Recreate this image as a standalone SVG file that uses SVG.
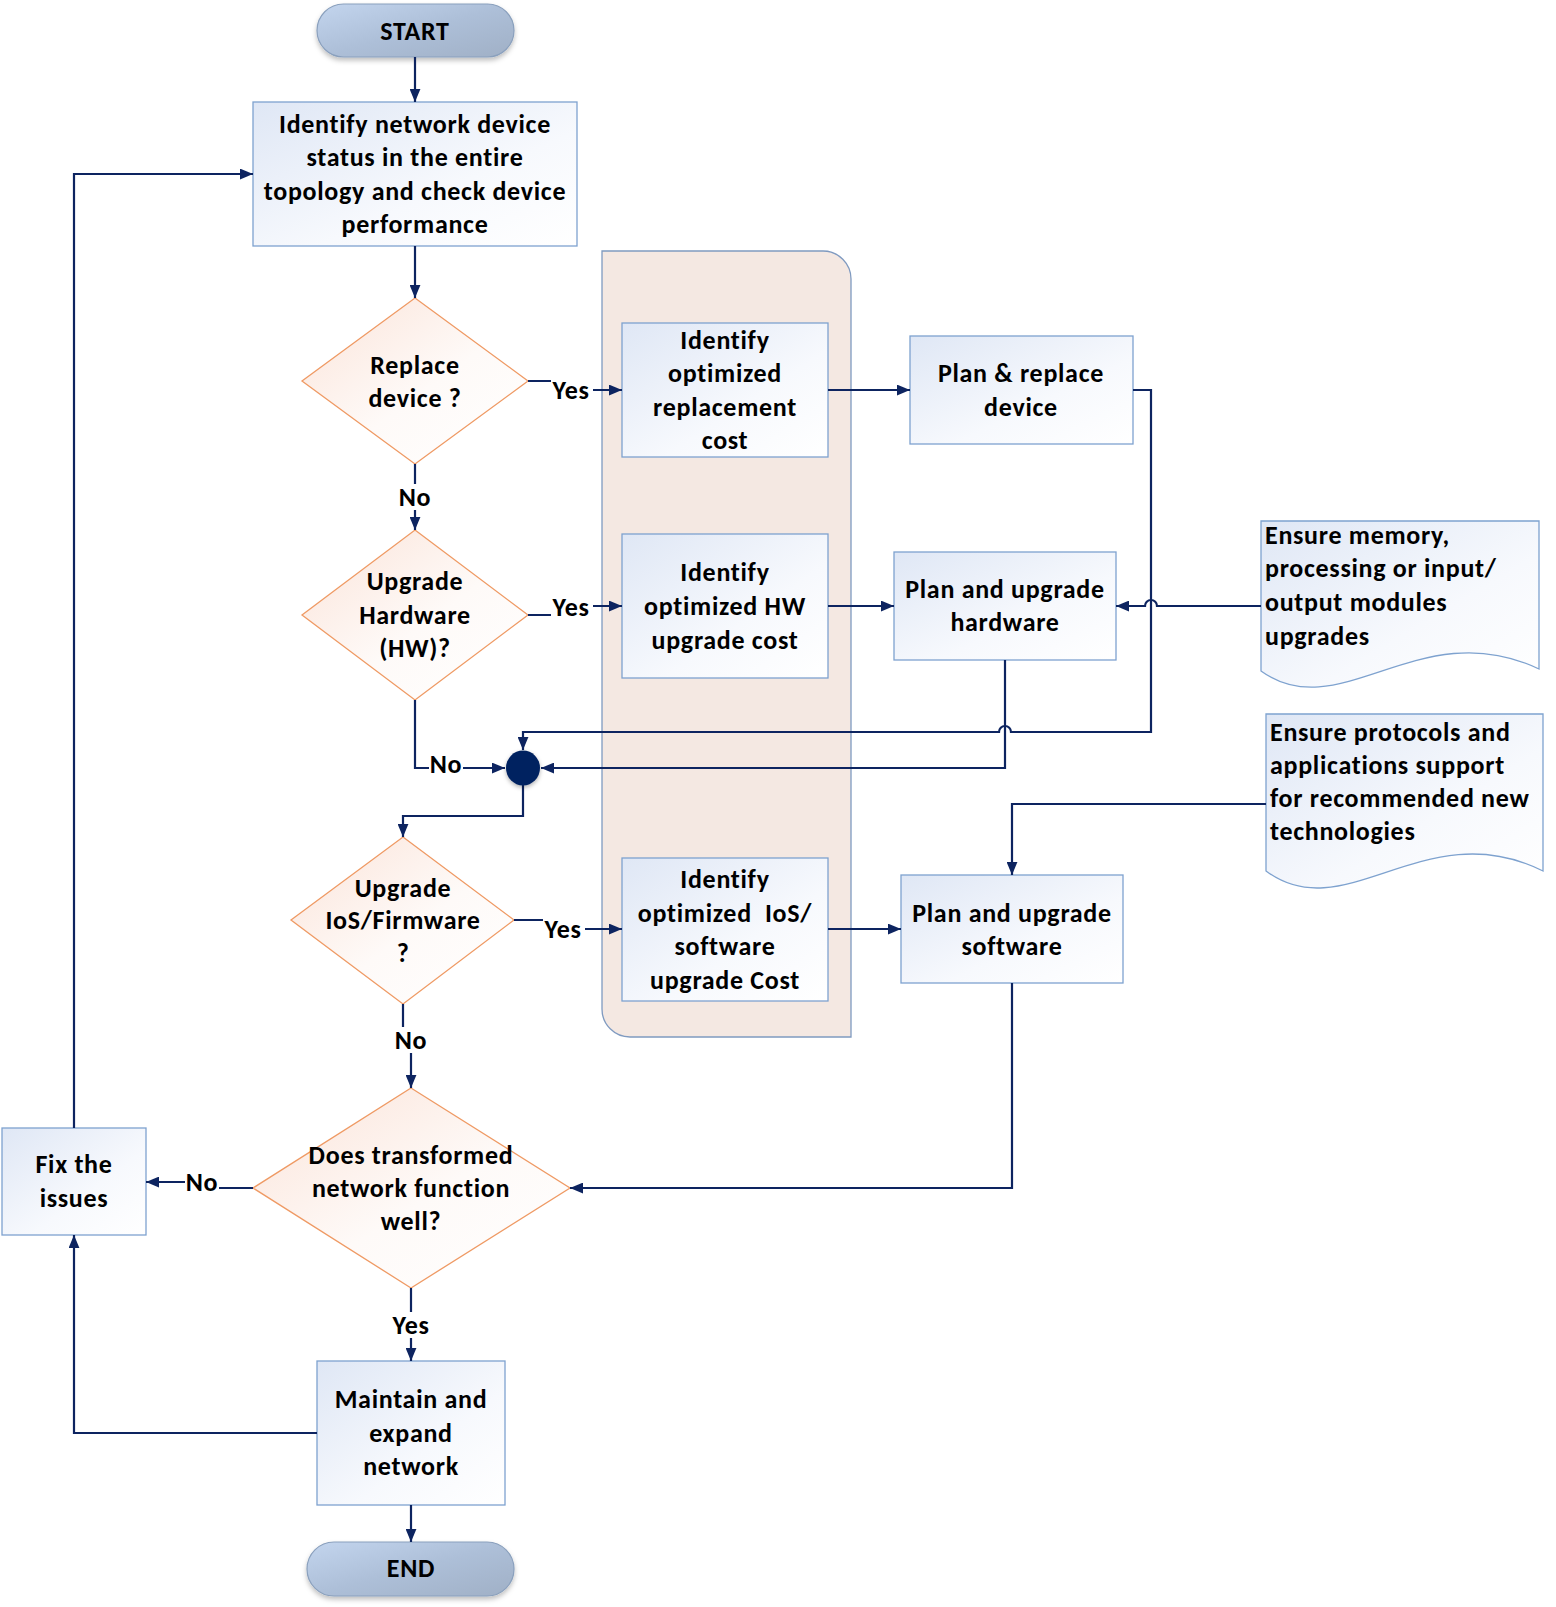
<svg xmlns="http://www.w3.org/2000/svg" width="1556" height="1607" viewBox="0 0 1556 1607">
<defs>
<linearGradient id="gBox" x1="0" y1="0" x2="1" y2="1"><stop offset="0" stop-color="#dfe7f5"/><stop offset="0.6" stop-color="#f7f9fd"/><stop offset="1" stop-color="#ffffff"/></linearGradient>
<linearGradient id="gDia" x1="0" y1="0" x2="1" y2="1"><stop offset="0" stop-color="#fbe3d8"/><stop offset="0.55" stop-color="#fefaf8"/><stop offset="1" stop-color="#ffffff"/></linearGradient>
<linearGradient id="gPill" x1="0" y1="0" x2="1" y2="1"><stop offset="0" stop-color="#c3d5ee"/><stop offset="0.5" stop-color="#adbfd8"/><stop offset="1" stop-color="#a0b0c6"/></linearGradient>
<filter id="sh" x="-10%" y="-20%" width="120%" height="150%"><feDropShadow dx="0" dy="3" stdDeviation="2.5" flood-color="#000" flood-opacity="0.25"/></filter>
<filter id="shc" x="-50%" y="-50%" width="200%" height="200%"><feDropShadow dx="0" dy="2" stdDeviation="2" flood-color="#000" flood-opacity="0.3"/></filter>
<marker id="ar" viewBox="0 0 12 10" refX="12" refY="5" markerWidth="13" markerHeight="11" markerUnits="userSpaceOnUse" orient="auto"><path d="M0,0 L12,5 L0,10 Z" fill="#0d2460"/></marker>
<style>
text{font-family:Carlito,Lato,"Liberation Sans",sans-serif;font-weight:bold;font-size:26px;letter-spacing:0.7px;fill:#000;text-anchor:middle;dominant-baseline:central}
.l{text-anchor:start}
.box{fill:url(#gBox);stroke:#7ea2cf;stroke-width:1.3}
.dia{fill:url(#gDia);stroke:#ef9a64;stroke-width:1.3}
.pill{fill:url(#gPill);stroke:#8aa0bd;stroke-width:1.2;filter:url(#sh)}
.cn{fill:none;stroke:#0d2460;stroke-width:2.2}
.lbg{fill:#fff}
</style>
</defs>
<rect width="1556" height="1607" fill="#fff"/>

<g id="container">
<path d="M602,251 H823 A28,28 0 0 1 851,279 V1037 H630 A28,28 0 0 1 602,1009 Z" fill="#f4e8e2" stroke="#7f9ac0" stroke-width="1.3"/>
</g>

<g id="start"><rect class="pill" x="317" y="4" width="197" height="53" rx="26.5"/><text x="415" y="30.5">START</text></g>

<g id="identify-status"><rect class="box" x="253" y="102" width="324" height="144"/>
<text x="415" y="124">Identify network device</text><text x="415" y="157">status in the entire</text><text x="415" y="191">topology and check device</text><text x="415" y="224">performance</text></g>

<g id="replace-device"><polygon class="dia" points="415,298 528,381 415,464 302,381"/>
<text x="415" y="365">Replace</text><text x="415" y="398">device ?</text></g>

<g id="upgrade-hw"><polygon class="dia" points="415,530 528,615 415,700 302,615"/>
<text x="415" y="581">Upgrade</text><text x="415" y="615">Hardware</text><text x="415" y="648">(HW)?</text></g>

<g id="upgrade-ios"><polygon class="dia" points="403,837 514,920 403,1004 291,920"/>
<text x="403" y="888">Upgrade</text><text x="403" y="920">IoS/Firmware</text><text x="403" y="953">?</text></g>

<g id="works-well"><polygon class="dia" points="411,1088 570,1188 411,1288 253,1188"/>
<text x="411" y="1155">Does transformed</text><text x="411" y="1188">network function</text><text x="411" y="1221">well?</text></g>

<g id="replacement-cost"><rect class="box" x="622" y="323" width="206" height="134"/>
<text x="725" y="340">Identify</text><text x="725" y="373">optimized</text><text x="725" y="407">replacement</text><text x="725" y="440">cost</text></g>

<g id="hw-cost"><rect class="box" x="622" y="534" width="206" height="144"/>
<text x="725" y="572">Identify</text><text x="725" y="606">optimized HW</text><text x="725" y="640">upgrade cost</text></g>

<g id="ios-cost"><rect class="box" x="622" y="858" width="206" height="143"/>
<text x="725" y="879">Identify</text><text x="725" y="913" xml:space="preserve">optimized  IoS/</text><text x="725" y="946">software</text><text x="725" y="980">upgrade Cost</text></g>

<g id="plan-replace"><rect class="box" x="910" y="336" width="223" height="108"/>
<text x="1021" y="373">Plan &amp; replace</text><text x="1021" y="407">device</text></g>

<g id="plan-hw"><rect class="box" x="894" y="552" width="222" height="108"/>
<text x="1005" y="589">Plan and upgrade</text><text x="1005" y="622">hardware</text></g>

<g id="plan-sw"><rect class="box" x="901" y="875" width="222" height="108"/>
<text x="1012" y="913">Plan and upgrade</text><text x="1012" y="946">software</text></g>

<g id="doc-memory"><path class="box" d="M1261,521 H1539 V669 C1420,612 1340,728 1261,671 Z"/>
<text class="l" x="1265" y="535">Ensure memory,</text><text class="l" x="1265" y="568">processing or input/</text><text class="l" x="1265" y="602">output modules</text><text class="l" x="1265" y="636">upgrades</text></g>

<g id="doc-protocols"><path class="box" d="M1266,714 H1543 V871 C1425,812 1345,930 1266,871 Z"/>
<text class="l" x="1270" y="732">Ensure protocols and</text><text class="l" x="1270" y="765">applications support</text><text class="l" x="1270" y="798">for recommended new</text><text class="l" x="1270" y="831">technologies</text></g>

<g id="fix"><rect class="box" x="2" y="1128" width="144" height="107"/>
<text x="74" y="1164">Fix the</text><text x="74" y="1198">issues</text></g>

<g id="maintain"><rect class="box" x="317" y="1361" width="188" height="144"/>
<text x="411" y="1399">Maintain and</text><text x="411" y="1433">expand</text><text x="411" y="1466">network</text></g>

<g id="end"><rect class="pill" x="307" y="1542" width="207" height="54" rx="27"/><text x="411" y="1568">END</text></g>

<g id="connectors">
<path class="cn" d="M415,57 V102" marker-end="url(#ar)"/>
<path class="cn" d="M415,246 V298" marker-end="url(#ar)"/>
<path class="cn" d="M528,381 H571 V390 H622" marker-end="url(#ar)"/>
<path class="cn" d="M415,464 V530" marker-end="url(#ar)"/>
<path class="cn" d="M528,615 H571 V606 H622" marker-end="url(#ar)"/>
<path class="cn" d="M415,700 V768 H505" marker-end="url(#ar)"/>
<path class="cn" d="M514,920 H563 V929 H622" marker-end="url(#ar)"/>
<path class="cn" d="M403,1004 V1040 H411 V1088" marker-end="url(#ar)"/>
<path class="cn" d="M253,1188 H202 V1182 H146" marker-end="url(#ar)"/>
<path class="cn" d="M411,1288 V1361" marker-end="url(#ar)"/>
<path class="cn" d="M411,1505 V1542" marker-end="url(#ar)"/>
<path class="cn" d="M74,1128 V174 H253" marker-end="url(#ar)"/>
<path class="cn" d="M317,1433 H74 V1235" marker-end="url(#ar)"/>
<path class="cn" d="M828,390 H910" marker-end="url(#ar)"/>
<path class="cn" d="M828,606 H894" marker-end="url(#ar)"/>
<path class="cn" d="M828,929 H901" marker-end="url(#ar)"/>
<path class="cn" d="M1133,390 H1151 V732 H1011 A6,6 0 0 0 999,732 H523 V750" marker-end="url(#ar)"/>
<path class="cn" d="M1005,660 V768 H541" marker-end="url(#ar)"/>
<path class="cn" d="M1261,606 H1157 A6,6 0 0 0 1145,606 H1116" marker-end="url(#ar)"/>
<path class="cn" d="M1266,804 H1012 V875" marker-end="url(#ar)"/>
<path class="cn" d="M1012,983 V1188 H570" marker-end="url(#ar)"/>
<path class="cn" d="M523,785 V816 H403 V837" marker-end="url(#ar)"/>
<g id="labels">
<rect class="lbg" x="551" y="377" width="42" height="26"/><text x="571" y="390">Yes</text>
<rect class="lbg" x="398" y="484" width="34" height="26"/><text x="415" y="497">No</text>
<rect class="lbg" x="551" y="594" width="42" height="26"/><text x="571" y="607">Yes</text>
<rect class="lbg" x="429" y="751" width="34" height="26"/><text x="446" y="764">No</text>
<rect class="lbg" x="543" y="916" width="42" height="26"/><text x="563" y="929">Yes</text>
<rect class="lbg" x="394" y="1027" width="34" height="26"/><text x="411" y="1040">No</text>
<rect class="lbg" x="185" y="1169" width="34" height="26"/><text x="202" y="1182">No</text>
<rect class="lbg" x="390" y="1312" width="42" height="26"/><text x="411" y="1325">Yes</text>
</g>
</g>

<g id="junction"><ellipse cx="523" cy="768" rx="17" ry="17.5" fill="#022260" filter="url(#shc)"/></g>
</svg>
